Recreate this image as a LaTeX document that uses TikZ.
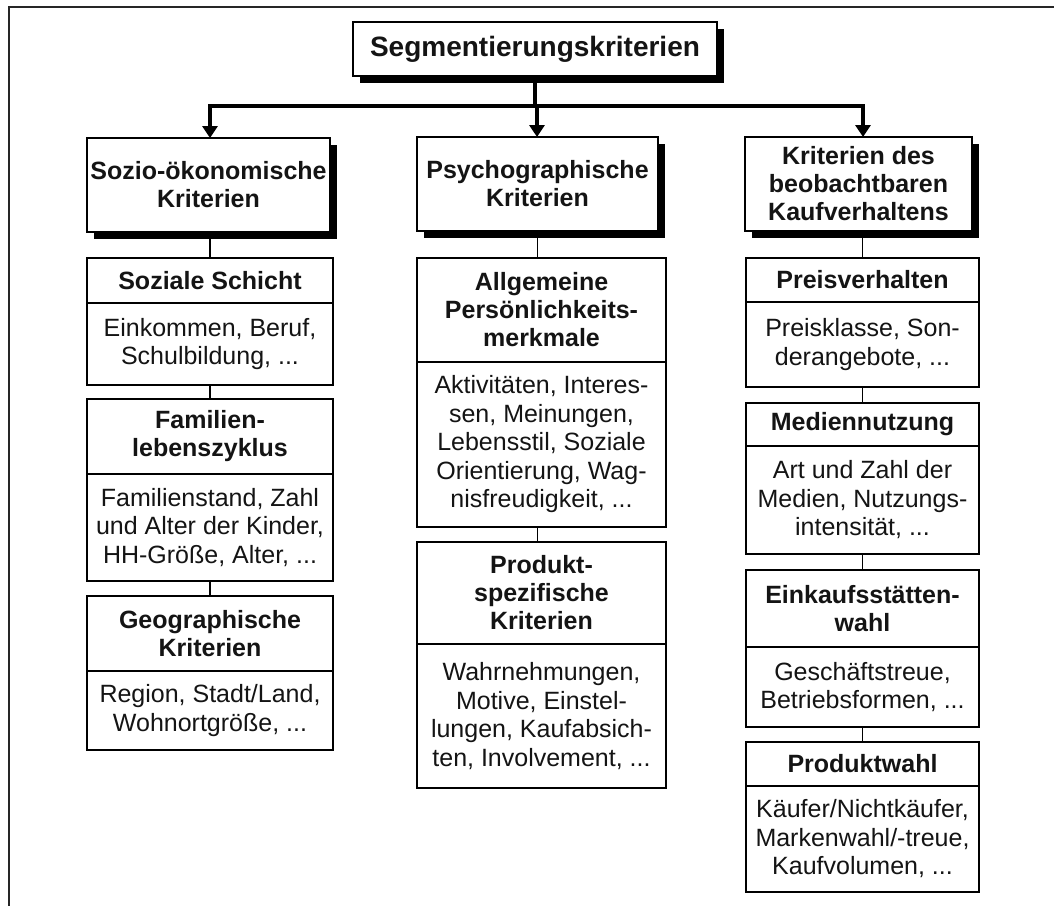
\documentclass[tikz,border=0pt]{standalone}
\usepackage{fontspec}
\setmainfont{Liberation Sans}
\usetikzlibrary{shadows,arrows.meta}

% one criterion box: a bold heading cell above a plain body cell
% #1 name, #2 left x, #3 width, #4 top, #5 divider, #6 bottom, #7 heading, #8 body
\newcommand\critbox[8]{%
  \node[headcell, minimum width=#3pt, minimum height={#5-#4}, anchor=north west] (#1h) at (#2,#4) {#7};
  \node[bodycell, minimum width=#3pt, minimum height={#6-#5}, anchor=north west] (#1b) at (#2,#5) {#8};
}

\begin{document}
\begin{tikzpicture}[x=1pt,y=-1pt,
  every node/.style={inner sep=0pt, outer sep=0pt, text=black!92},
  boldtext/.style={font=\fontsize{25}{28}\selectfont\bfseries, align=center},
  plaintext/.style={font=\fontsize{25}{28.5}\selectfont, align=center},
  headcell/.style={draw, line width=1.8pt, fill=white, boldtext},
  bodycell/.style={draw, line width=1.8pt, fill=white, plaintext},
  shadowbox/.style={draw, line width=1.8pt, fill=white, boldtext,
    drop shadow={shadow xshift=7pt, shadow yshift=-7pt, fill=black, opacity=1}},
  link/.style={line width=1.5pt},
  trunk/.style={line width=3.6pt},
  feed/.style={line width=3.6pt, -{Triangle[length=12pt,width=15pt]}},
  frameline/.style={line width=1.6pt, black!85}
]
\useasboundingbox (0,0) rectangle (1054,906);

% outer frame (top and left edges)
\draw[frameline] (1054,7) -- (9,7) -- (9,906);

% root
\node[shadowbox, font=\fontsize{28}{32}\selectfont\bfseries, minimum width=364pt, minimum height=54pt, anchor=north west]
  (root) at (353,22) {Segmentierungskriterien};

% main groups
\node[shadowbox, minimum width=243pt, minimum height=94pt, anchor=north west] (g1) at (87,138)
  {Sozio-ökonomische\\Kriterien};
\node[shadowbox, minimum width=241pt, minimum height=94pt, anchor=north west] (g2) at (417,137)
  {Psychographische\\Kriterien};
\node[shadowbox, minimum width=227pt, minimum height=94pt, anchor=north west] (g3) at (745,137)
  {Kriterien des\\beobachtbaren\\Kaufverhaltens};

% column 1
\critbox{a}{87}{246}{258}{303}{385}{Soziale Schicht}{Einkommen, Beruf,\\Schulbildung, ...}
\critbox{b}{87}{246}{399}{474}{581}{Familien-\\lebenszyklus}{Familienstand, Zahl\\und Alter der Kinder,\\HH-Größe, Alter, ...}
\critbox{c}{87}{246}{596}{671}{750}{Geographische\\Kriterien}{Region, Stadt/Land,\\Wohnortgröße, ...}

% column 2
\critbox{d}{417}{249}{258}{362}{527}{Allgemeine\\Persönlichkeits-\\merkmale}{Aktivitäten, Interes-\\sen, Meinungen,\\Lebensstil, Soziale\\Orientierung, Wag-\\nisfreudigkeit, ...}
\critbox{e}{417}{249}{542}{644}{788}{Produkt-\\spezifische\\Kriterien}{Wahrnehmungen,\\Motive, Einstel-\\lungen, Kaufabsich-\\ten, Involvement, ...}

% column 3
\critbox{f}{746}{233}{258}{302}{387}{Preisverhalten}{Preisklasse, Son-\\derangebote, ...}
\critbox{g}{746}{233}{403}{446}{554}{Mediennutzung}{Art und Zahl der\\Medien, Nutzungs-\\intensität, ...}
\critbox{h}{746}{233}{570}{647}{727}{Einkaufsstätten-\\wahl}{Geschäftstreue,\\Betriebsformen, ...}
\critbox{i}{746}{233}{742}{786}{892}{Produktwahl}{Käufer/Nichtkäufer,\\Markenwahl/-treue,\\Kaufvolumen, ...}

% distribution bus from the root to the three groups
\coordinate (bus) at (0,106);
\coordinate (x1) at (210,0);
\coordinate (x2) at (537,0);
\coordinate (x3) at (863,0);
\draw[trunk] (root.south) -- (root.south |- bus);
\draw[trunk, line cap=rect] (x1 |- bus) -- (x3 |- bus);
\draw[feed] (x1 |- bus) -- (x1 |- g1.north);
\draw[feed] (x2 |- bus) -- (x2 |- g2.north);
\draw[feed] (x3 |- bus) -- (x3 |- g3.north);

% group to first criterion
\draw[link] (ah.north) -- (ah.north |- g1.south);
\draw[link] (g2.south) -- (g2.south |- dh.north);
\draw[link] (fh.north) -- (fh.north |- g3.south);

% chains inside each column
\draw[link] (ab.south) -- (bh.north);
\draw[link] (bb.south) -- (ch.north);
\draw[link] (db.south) -- (db.south -| g2.south) -- (g2.south |- eh.north);
\draw[link] (fb.south) -- (gh.north);
\draw[link] (gb.south) -- (hh.north);
\draw[link] (hb.south) -- (ih.north);
\end{tikzpicture}
\end{document}
